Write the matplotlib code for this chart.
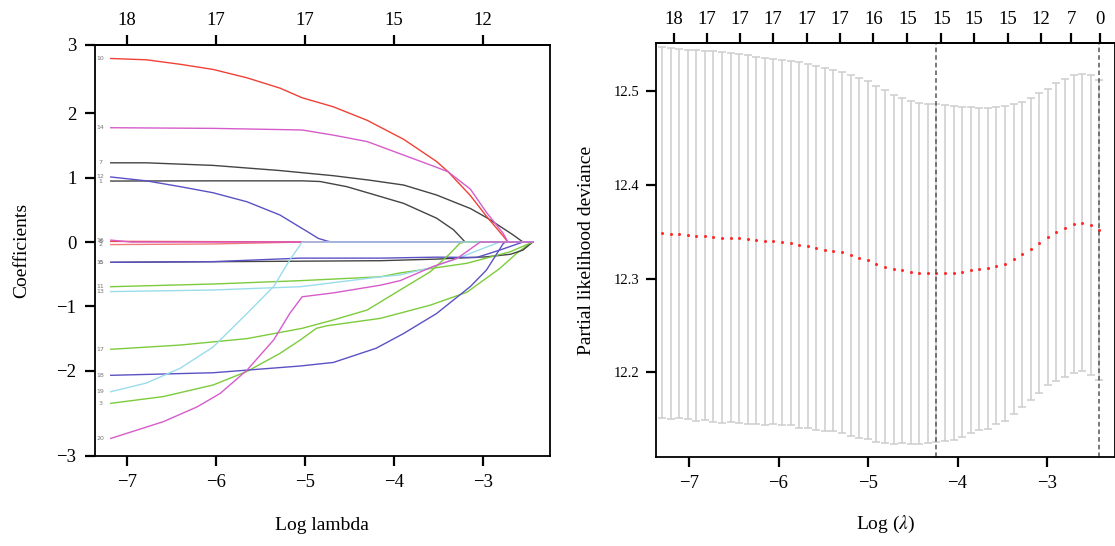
import numpy as np
import matplotlib
matplotlib.use("Agg")
import matplotlib.pyplot as plt

plt.rcParams['font.family'] = ['Liberation Serif', 'DejaVu Serif']
plt.rcParams['mathtext.fontset'] = 'stix'

# ---- left panel: coefficient paths (log lambda, coefficient) ----
top_left_ticks = [-7, -6, -5, -4, -3]
top_left_labels = ['18', '17', '17', '15', '12']

x_10 = [-7.18, -6.78, -6.40, -6.03, -5.65, -5.28, -5.03, -4.68, -4.30, -3.89, -3.52, -3.39, -3.14, -2.96, -2.77, -2.72, -2.44]
y_10 = [2.85, 2.83, 2.76, 2.68, 2.55, 2.39, 2.24, 2.10, 1.89, 1.595, 1.25, 1.09, 0.72, 0.40, 0.09, 0.0, 0.0]
x_14 = [-7.18, -6.03, -5.03, -4.68, -4.30, -3.89, -3.52, -3.39, -3.14, -2.96, -2.77, -2.72, -2.44]
y_14 = [1.775, 1.765, 1.74, 1.66, 1.56, 1.35, 1.16, 1.09, 0.82, 0.46, 0.13, 0.0, 0.0]
x_7 = [-7.18, -6.78, -6.03, -5.28, -4.68, -4.27, -3.89, -3.52, -3.14, -2.96, -2.77, -2.66, -2.55, -2.44]
y_7 = [1.23, 1.23, 1.19, 1.11, 1.03, 0.96, 0.885, 0.73, 0.52, 0.38, 0.21, 0.11, 0.0, 0.0]
x_1 = [-7.18, -6.03, -5.03, -4.83, -4.53, -4.27, -3.89, -3.52, -3.33, -3.24, -3.20, -2.44]
y_1 = [0.947, 0.95, 0.95, 0.94, 0.86, 0.755, 0.60, 0.37, 0.19, 0.06, 0.0, 0.0]
x_12 = [-7.18, -6.78, -6.40, -6.03, -5.65, -5.28, -5.09, -4.94, -4.85, -4.75, -4.70, -2.44]
y_12 = [1.01, 0.95, 0.86, 0.765, 0.625, 0.42, 0.26, 0.135, 0.057, 0.015, 0.0, 0.0]
x_16 = [-7.18, -6.95, -2.44]
y_16 = [0.03, 0.0, 0.0]
x_8 = [-7.18, -5.80, -5.03, -2.44]
y_8 = [0.01, 0.005, 0.0, 0.0]
x_2 = [-7.18, -6.03, -5.03, -2.44]
y_2 = [-0.04, -0.03, 0.0, 0.0]
x_15 = [-7.18, -6.03, -5.05, -4.15, -3.52, -3.07, -2.81, -2.55, -2.44]
y_15 = [-0.315, -0.305, -0.25, -0.25, -0.235, -0.24, -0.125, 0.0, 0.0]
x_6 = [-7.18, -4.15, -3.52, -2.96, -2.69, -2.55, -2.44]
y_6 = [-0.315, -0.29, -0.265, -0.23, -0.19, -0.125, 0.0]
x_11 = [-7.18, -6.03, -5.05, -4.15, -3.93, -3.18, -2.69, -2.44]
y_11 = [-0.694, -0.652, -0.60, -0.54, -0.48, -0.33, -0.15, 0.0]
x_13 = [-7.18, -6.03, -5.05, -4.15, -3.93, -3.59, -3.26, -3.00, -2.81, -2.44]
y_13 = [-0.77, -0.745, -0.694, -0.54, -0.51, -0.40, -0.24, -0.10, 0.0, 0.0]
x_17 = [-7.18, -6.40, -5.65, -5.03, -4.68, -4.30, -4.15, -3.93, -3.59, -3.37, -3.26, -3.20, -2.44]
y_17 = [-1.666, -1.60, -1.50, -1.34, -1.21, -1.056, -0.93, -0.745, -0.46, -0.18, -0.02, 0.0, 0.0]
x_3 = [-7.18, -6.59, -6.03, -5.65, -5.28, -5.05, -4.87, -4.75, -4.15, -3.59, -3.18, -2.81, -2.62, -2.45, -2.44]
y_3 = [-2.505, -2.40, -2.22, -2.01, -1.73, -1.52, -1.34, -1.30, -1.185, -0.98, -0.78, -0.41, -0.175, 0.0, 0.0]
x_18 = [-7.18, -6.03, -5.05, -4.68, -4.20, -3.89, -3.52, -3.14, -2.96, -2.77, -2.74, -2.44]
y_18 = [-2.07, -2.03, -1.925, -1.87, -1.65, -1.42, -1.11, -0.69, -0.435, -0.02, 0.0, 0.0]
x_19 = [-7.18, -6.78, -6.40, -6.03, -5.65, -5.35, -5.17, -5.03, -2.44]
y_19 = [-2.325, -2.19, -1.96, -1.63, -1.11, -0.69, -0.28, 0.0, 0.0]
x_20 = [-7.18, -6.59, -6.21, -5.95, -5.65, -5.35, -5.17, -5.03, -4.68, -4.15, -3.93, -3.56, -3.29, -3.03, -2.44]
y_20 = [-3.05, -2.79, -2.56, -2.35, -1.99, -1.52, -1.11, -0.85, -0.79, -0.67, -0.60, -0.38, -0.255, 0.0, 0.0]

red = '#ef4136'
pink = '#f27a7a'
orchid = '#d65ccb'
dgray = '#444444'
sblue = '#5a52c4'
green = '#7ccb3c'
lblue = '#9adcec'

# (label, x, y, colour) drawn in variable order
paths = [
    ('1', x_1, y_1, dgray),
    ('2', x_2, y_2, pink),
    ('3', x_3, y_3, green),
    ('6', x_6, y_6, dgray),
    ('7', x_7, y_7, dgray),
    ('8', x_8, y_8, red),
    ('10', x_10, y_10, red),
    ('11', x_11, y_11, green),
    ('12', x_12, y_12, sblue),
    ('13', x_13, y_13, lblue),
    ('14', x_14, y_14, orchid),
    ('15', x_15, y_15, sblue),
    ('16', x_16, y_16, orchid),
    ('17', x_17, y_17, green),
    ('18', x_18, y_18, sblue),
    ('19', x_19, y_19, lblue),
    ('20', x_20, y_20, orchid),
]

# ---- right panel: cross-validation curve ----
log_lambda = [-7.302, -7.206, -7.110, -7.015, -6.919, -6.823, -6.727, -6.631, -6.536, -6.440,
              -6.344, -6.248, -6.152, -6.057, -5.961, -5.865, -5.769, -5.673, -5.578, -5.482,
              -5.386, -5.290, -5.194, -5.099, -5.003, -4.907, -4.811, -4.715, -4.620, -4.524,
              -4.428, -4.332, -4.236, -4.141, -4.045, -3.949, -3.853, -3.757, -3.662, -3.566,
              -3.470, -3.374, -3.278, -3.183, -3.087, -2.991, -2.895, -2.799, -2.704, -2.608,
              -2.512, -2.416]
cvm = [12.349, 12.348, 12.348, 12.347, 12.346, 12.346, 12.345, 12.344, 12.344, 12.343,
       12.342, 12.341, 12.340, 12.340, 12.339, 12.338, 12.336, 12.335, 12.333, 12.331,
       12.330, 12.328, 12.325, 12.322, 12.320, 12.316, 12.313, 12.310, 12.309, 12.307,
       12.306, 12.306, 12.306, 12.306, 12.306, 12.307, 12.309, 12.310, 12.311, 12.314,
       12.316, 12.321, 12.326, 12.332, 12.338, 12.345, 12.350, 12.354, 12.358, 12.360,
       12.357, 12.352]
cvsd = [0.198, 0.198, 0.197, 0.197, 0.198, 0.197, 0.198, 0.198, 0.197, 0.197,
        0.197, 0.196, 0.196, 0.195, 0.195, 0.194, 0.195, 0.194, 0.194, 0.194,
        0.193, 0.193, 0.193, 0.192, 0.191, 0.190, 0.188, 0.186, 0.184, 0.183,
        0.182, 0.181, 0.180, 0.179, 0.178, 0.176, 0.174, 0.172, 0.171, 0.169,
        0.168, 0.165, 0.163, 0.161, 0.160, 0.158, 0.159, 0.159, 0.159, 0.159,
        0.160, 0.160]
lambda_min_log = -4.236
lambda_1se_log = -2.416
top_right_ticks = [-7.17, -6.80, -6.43, -6.06, -5.68, -5.31, -4.94, -4.56, -4.18, -3.82, -3.44, -3.07, -2.73, -2.41]
top_right_labels = ['18', '17', '17', '17', '17', '17', '16', '15', '15', '15', '15', '12', '7', '0']

fig = plt.figure(figsize=(11.15, 5.46), dpi=100)
ax1 = fig.add_axes([0.0848, 0.1654, 0.4085, 0.7527])
ax2 = fig.add_axes([0.5883, 0.1630, 0.4113, 0.7582])

tick_kw = dict(direction='out', length=7, width=1.6, colors='black')

# left panel
for lab, xs, ys, col in paths:
    ax1.plot(xs, ys, color=col, lw=1.0)
    ax1.text(-7.30, ys[0], lab, fontsize=4.5, color='#777777', ha='center', va='center',
             family='DejaVu Sans')

ax1.set_xlim(-7.362, -2.246)
ax1.set_ylim(-3.318, 3.064)
ax1.set_xticks([-7, -6, -5, -4, -3])
ax1.set_yticks([-3.318, -2, -1, 0, 1, 2, 3.064], ['\u22123', '\u22122', '\u22121', '0', '1', '2', '3'])
ax1.tick_params(labelsize=13.5, pad=6, **tick_kw)
ax1.set_xlabel('Log lambda', fontsize=14, labelpad=19)
ax1.set_ylabel('Coefficients', fontsize=14, labelpad=19)
top1 = ax1.secondary_xaxis('top')
top1.set_xticks(top_left_ticks, top_left_labels)
top1.tick_params(labelsize=13.5, pad=4, **tick_kw)

# right panel
ax2.errorbar(log_lambda, cvm, yerr=cvsd, fmt='none', ecolor='#cdcdcd', elinewidth=1.1,
             capsize=2.8, capthick=1.1)
ax2.plot(log_lambda, cvm, 'o', color='#ff2a2a', markersize=2.2, markeredgewidth=0)
ax2.axvline(lambda_min_log, color='#555555', ls=(0, (3, 2)), lw=1.1)
ax2.axvline(lambda_1se_log, color='#555555', ls=(0, (3, 2)), lw=1.1)

ax2.set_xlim(-7.369, -2.246)
ax2.set_ylim(12.1097, 12.5516)
ax2.set_xticks([-7, -6, -5, -4, -3])
ax2.set_yticks([12.2, 12.3, 12.4, 12.5])
ax2.tick_params(axis='x', labelsize=13.5, pad=6, **tick_kw)
ax2.tick_params(axis='y', labelsize=10.5, pad=5, **tick_kw)
ax2.set_xlabel('Log ($\\lambda$)', fontsize=14, labelpad=16)
ax2.set_ylabel('Partial likelihood deviance', fontsize=14, labelpad=13)
top2 = ax2.secondary_xaxis('top')
top2.set_xticks(top_right_ticks, top_right_labels)
top2.tick_params(labelsize=13.5, pad=4, **tick_kw)

for ax in (ax1, ax2):
    for s in ax.spines.values():
        s.set_linewidth(1.3)
top1.spines['top'].set_linewidth(1.3)
top2.spines['top'].set_linewidth(1.3)

fig.savefig('out.png', dpi=100)
